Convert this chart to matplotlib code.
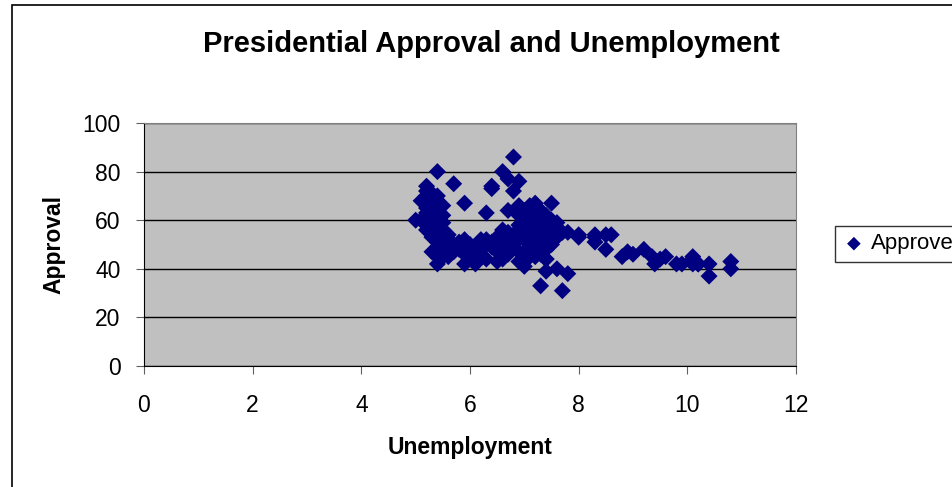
import matplotlib.pyplot as plt
from matplotlib.patches import Rectangle

# Unemployment rate (%) vs presidential approval (%)
unemployment = [
    5.0, 5.2, 5.4, 5.7, 5.2, 5.3, 5.4, 5.9, 5.1, 5.2, 5.3, 5.5, 5.2, 5.5, 5.5, 5.3, 5.4,
    5.6, 5.4, 5.7, 5.9, 5.8, 6.1, 6.2, 6.3, 6.5, 6.7, 5.4, 5.6, 5.4, 5.9, 6.1, 6.0, 6.5,
    6.2, 5.3,
    5.2, 5.2, 5.3, 5.3, 5.4, 5.4, 5.2, 5.3, 5.4, 5.3, 5.2, 5.4, 5.5, 5.5, 5.4, 5.6, 5.5,
    5.6, 5.7, 5.7, 5.8, 5.8, 5.6, 5.5, 5.4, 5.5, 5.2, 5.1, 5.3, 5.6, 5.4, 5.3,
    5.9, 6.0, 6.0, 6.1, 6.2, 6.2, 6.3, 6.4, 6.4, 6.5, 6.5, 6.6, 6.6, 6.7, 6.7, 6.8, 6.8,
    6.6, 6.7, 6.9, 6.9, 6.0, 6.1, 5.9, 6.2, 6.3,
    6.4, 6.3, 6.8, 6.6, 6.7, 6.9, 6.8, 6.4, 6.7, 6.9, 7.2, 7.5, 6.6, 6.6, 6.6, 7.0, 6.9,
    7.1, 6.8,
    7.0, 7.0, 7.1, 7.1, 7.2, 7.2, 7.2, 7.3, 7.3, 7.3, 7.3, 7.4, 7.4, 7.4, 7.4, 7.4, 7.5,
    7.5, 7.5, 7.5, 7.6, 7.6, 7.2, 7.1, 7.0, 6.9, 6.9, 7.0, 7.1, 7.2, 7.3, 7.2, 7.0, 6.95,
    7.4, 7.6, 7.7,
    7.4, 7.6, 7.8, 7.3, 7.7, 7.4,
    7.8, 8.0, 8.0, 8.3, 8.3, 8.5, 8.6, 8.5, 8.8, 8.9, 9.0, 9.2, 9.35, 9.4, 9.5, 9.6, 9.8,
    9.9, 10.1, 10.1, 10.1, 10.2, 10.2, 10.4, 10.4, 10.8, 10.8, 8.3,
]
approval = [
    60, 74, 80, 75, 72, 71, 70, 67, 68, 65, 67, 66, 63, 62, 59, 57, 55,
    50, 52, 48, 48, 48, 48, 49, 52, 53, 53, 45, 45, 42, 42, 42, 44, 43,
    46, 47,
    70, 67, 69, 65, 68, 63, 62, 60, 58, 57, 56, 55, 56, 53, 51, 52, 50,
    49, 50, 47, 49, 51, 46, 47, 48, 45, 58, 60, 62, 54, 60, 53,
    52, 50, 48, 47, 49, 52, 50, 49, 51, 50, 47, 49, 53, 51, 55, 54, 50,
    44, 46, 47, 53, 45, 43, 46, 46, 44,
    73, 63, 86, 80, 77, 76, 72, 74, 64, 66, 67, 67, 52, 56, 46, 41, 43,
    45, 49,
    60, 57, 62, 55, 58, 61, 53, 64, 60, 56, 50, 62, 58, 55, 52, 48, 60,
    57, 54, 50, 56, 53, 48, 50, 52, 58, 62, 64, 66, 64, 46, 45, 47, 43,
    44, 59, 55,
    39, 40, 38, 33, 31, 44,
    55, 54, 53, 54, 51, 54, 54, 48, 45, 47, 46, 48, 45, 42, 44, 45, 42,
    42, 45, 42, 44, 42, 42, 42, 37, 43, 40, 53,
]

fig = plt.figure(figsize=(9.53, 4.87), dpi=100)
plt.rcParams['font.family'] = ['Liberation Sans', 'DejaVu Sans']

ax = fig.add_axes([144 / 953, 1 - 366 / 487, (796 - 144) / 953, (366 - 123) / 487])
ax.set_facecolor('#C0C0C0')
ax.scatter(unemployment, approval, marker='D', s=75, color='#000080',
           edgecolors='none', label='Approve', zorder=3)

ax.set_xlim(0, 12)
ax.set_ylim(0, 100)
ax.set_xticks(range(0, 13, 2))
ax.set_yticks(range(0, 101, 20))
ax.yaxis.grid(True, color='black', linewidth=1)
ax.set_axisbelow(True)

for side in ['top', 'right']:
    ax.spines[side].set_color('#808080')
for side in ['left', 'bottom']:
    ax.spines[side].set_color('black')
ax.tick_params(direction='out', length=6, color='#606060', labelsize=16.5)
ax.tick_params(axis='x', pad=14)
ax.tick_params(axis='y', pad=11)

ax.set_xlabel('Unemployment', fontsize=16.5, fontweight='bold', labelpad=14)
ax.set_ylabel('Approval', fontsize=16.5, fontweight='bold', labelpad=12)
fig.text(491 / 953, 1 - 44 / 487, 'Presidential Approval and Unemployment',
         ha='center', va='center', fontsize=21, fontweight='bold')

leg = ax.legend(loc='center left', bbox_to_anchor=(835 / 953, 1 - 244 / 487),
                bbox_transform=fig.transFigure, frameon=True, fontsize=16,
                handletextpad=0.25, borderpad=0.35, handlelength=1.0,
                markerscale=0.8, fancybox=False, borderaxespad=0)
leg.get_frame().set_edgecolor('black')
leg.get_frame().set_linewidth(1)

# outer chart border (runs off the right and bottom of the image)
fig.patches.append(Rectangle((12 / 953, -0.2), 2, 1 - 5 / 487 + 0.2,
                             transform=fig.transFigure, fill=False,
                             edgecolor='black', linewidth=1.2))

fig.savefig('out.png', dpi=100)
